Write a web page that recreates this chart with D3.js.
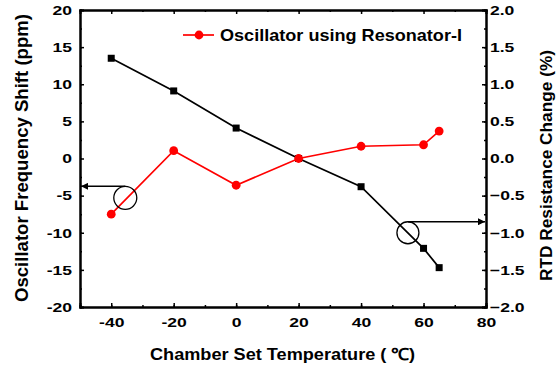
<!DOCTYPE html>
<html>
<head>
<meta charset="utf-8">
<script src="https://cdn.jsdelivr.net/npm/d3@7"></script>
<style>
  html, body { margin: 0; padding: 0; background: #fff; }
  svg { display: block; font-family: "Liberation Sans", Arial, sans-serif; font-weight: bold; }
</style>
</head>
<body>
<svg id="chart" width="557" height="368"></svg>
<script>
// Chamber set temperatures (°C)
const temps = [-40, -20, 0, 20, 40, 60, 65];
// Oscillator frequency shift (ppm), left axis
const freqShift = [-7.5, 1.05, -3.6, 0, 1.65, 1.85, 3.7];
// RTD resistance change (%), right axis
const rtdChange = [1.35, 0.91, 0.41, 0, -0.38, -1.21, -1.47];

const xTicks = [-40, -20, 0, 20, 40, 60, 80];
const yLeftTicks = [-20, -15, -10, -5, 0, 5, 10, 15, 20];
const yRightTicks = [-2.0, -1.5, -1.0, -0.5, 0.0, 0.5, 1.0, 1.5, 2.0];
const legendLabel = "Oscillator using Resonator-I";

const svg = d3.select("#chart");
const L = 80, R = 486, T = 10, B = 307;
const SX = 1.3;          // horizontal stretch of tick labels
const TICK_FONT = 13.5;

const x = d3.scaleLinear().domain([-50, 80]).range([L, R]);
const yL = d3.scaleLinear().domain([-20, 20]).range([B, T]);
const yR = d3.scaleLinear().domain([-2, 2]).range([B, T]);

// axis with inward major + minor ticks; labels are widened with a scale transform
function axisWithMinor(g, axisFn, scale, major, minor, labels, pad) {
  g.call(axisFn(scale).tickValues(minor).tickSize(-2).tickFormat(""));
  const gm = g.append("g");
  gm.call(axisFn(scale).tickValues(major).tickSize(-4).tickPadding(pad || 0)
    .tickFormat(labels ? labels : ""));
  g.selectAll(".domain").attr("stroke", "#000").attr("stroke-width", 2);
  g.selectAll(".tick line").attr("stroke", "#000").attr("stroke-width", 1.5);
  gm.selectAll(".tick text")
    .attr("font-size", TICK_FONT).attr("font-weight", "bold")
    .attr("font-family", "Liberation Sans, Arial, sans-serif").attr("fill", "#000")
    .each(function () {
      const t = d3.select(this);
      const x0 = +t.attr("x") || 0;
      t.attr("x", x0 / SX).attr("transform", `scale(${SX},1)`);
    });
  return g;
}

const xMinor = d3.range(-50, 81, 10);
axisWithMinor(svg.append("g").attr("transform", `translate(0,${B})`), d3.axisBottom, x, xTicks, xMinor, d => d, 10);
axisWithMinor(svg.append("g").attr("transform", `translate(0,${T})`), d3.axisTop, x, xTicks, xMinor, null, 0);
axisWithMinor(svg.append("g").attr("transform", `translate(${L},0)`), d3.axisLeft, yL, yLeftTicks,
  d3.range(-20, 20.1, 2.5), d => d, 8);
axisWithMinor(svg.append("g").attr("transform", `translate(${R},0)`), d3.axisRight, yR, yRightTicks,
  d3.range(-2, 2.01, 0.25), d => d3.format(".1f")(d), 4);

// axis titles
svg.append("text").attr("x", 282.5).attr("y", 360).attr("text-anchor", "middle")
  .attr("font-size", 16.5).attr("textLength", 265).attr("lengthAdjust", "spacingAndGlyphs")
  .text("Chamber Set Temperature ( ℃)");
svg.append("text").attr("transform", "translate(28,158) rotate(-90)")
  .attr("text-anchor", "middle").attr("font-size", 17.5)
  .attr("textLength", 288).attr("lengthAdjust", "spacingAndGlyphs")
  .text("Oscillator Frequency Shift (ppm)");
svg.append("text").attr("transform", "translate(552,165.5) rotate(-90)")
  .attr("text-anchor", "middle").attr("font-size", 16.5)
  .attr("textLength", 231).attr("lengthAdjust", "spacingAndGlyphs")
  .text("RTD Resistance Change (%)");

// RTD series (black squares)
const rtdData = temps.map((t, i) => [t, rtdChange[i]]);
svg.append("path").datum(rtdData)
  .attr("fill", "none").attr("stroke", "#000").attr("stroke-width", 1.7)
  .attr("d", d3.line().x(d => x(d[0])).y(d => yR(d[1])));
svg.selectAll(".sq").data(rtdData).join("rect")
  .attr("x", d => x(d[0]) - 3.5).attr("y", d => yR(d[1]) - 3.5)
  .attr("width", 7).attr("height", 7).attr("fill", "#000");

// Oscillator series (red circles)
const oscData = temps.map((t, i) => [t, freqShift[i]]);
svg.append("path").datum(oscData)
  .attr("fill", "none").attr("stroke", "#ff0000").attr("stroke-width", 1.7)
  .attr("d", d3.line().x(d => x(d[0])).y(d => yL(d[1])));
svg.selectAll(".ci").data(oscData).join("circle")
  .attr("cx", d => x(d[0])).attr("cy", d => yL(d[1])).attr("r", 4.4).attr("fill", "#ff0000");

// arrow marker
const defs = svg.append("defs");
defs.append("marker").attr("id", "arr").attr("viewBox", "0 0 10 10")
  .attr("refX", 10).attr("refY", 5).attr("markerWidth", 10).attr("markerHeight", 7)
  .attr("markerUnits", "userSpaceOnUse").attr("orient", "auto")
  .append("path").attr("d", "M0,0 L10,5 L0,10 Z").attr("fill", "#000");

// series callouts: circle + arrow pointing to the matching axis
const cL = { t: -35.5, v: -5.3 };
svg.append("circle").attr("cx", x(cL.t)).attr("cy", yL(cL.v)).attr("r", 11.5)
  .attr("fill", "none").attr("stroke", "#000").attr("stroke-width", 1.3);
svg.append("line").attr("x1", x(cL.t)).attr("x2", L + 1)
  .attr("y1", yL(cL.v) - 11.5).attr("y2", yL(cL.v) - 11.5)
  .attr("stroke", "#000").attr("stroke-width", 1.5).attr("marker-end", "url(#arr)");

const cR = { t: 55, v: -1.0 };
svg.append("circle").attr("cx", x(cR.t)).attr("cy", yR(cR.v)).attr("r", 11)
  .attr("fill", "none").attr("stroke", "#000").attr("stroke-width", 1.3);
svg.append("line").attr("x1", x(cR.t)).attr("x2", R - 1)
  .attr("y1", yR(cR.v) - 11).attr("y2", yR(cR.v) - 11)
  .attr("stroke", "#000").attr("stroke-width", 1.5).attr("marker-end", "url(#arr)");

// legend
const lg = svg.append("g").attr("transform", "translate(183,35)");
lg.append("line").attr("x1", 0).attr("x2", 31).attr("stroke", "#ff0000").attr("stroke-width", 1.7);
lg.append("circle").attr("cx", 16).attr("r", 4.4).attr("fill", "#ff0000");
lg.append("text").attr("x", 37).attr("y", 5.5).attr("font-size", 16.5)
  .attr("textLength", 242).attr("lengthAdjust", "spacingAndGlyphs").text(legendLabel);
</script>
</body>
</html>
